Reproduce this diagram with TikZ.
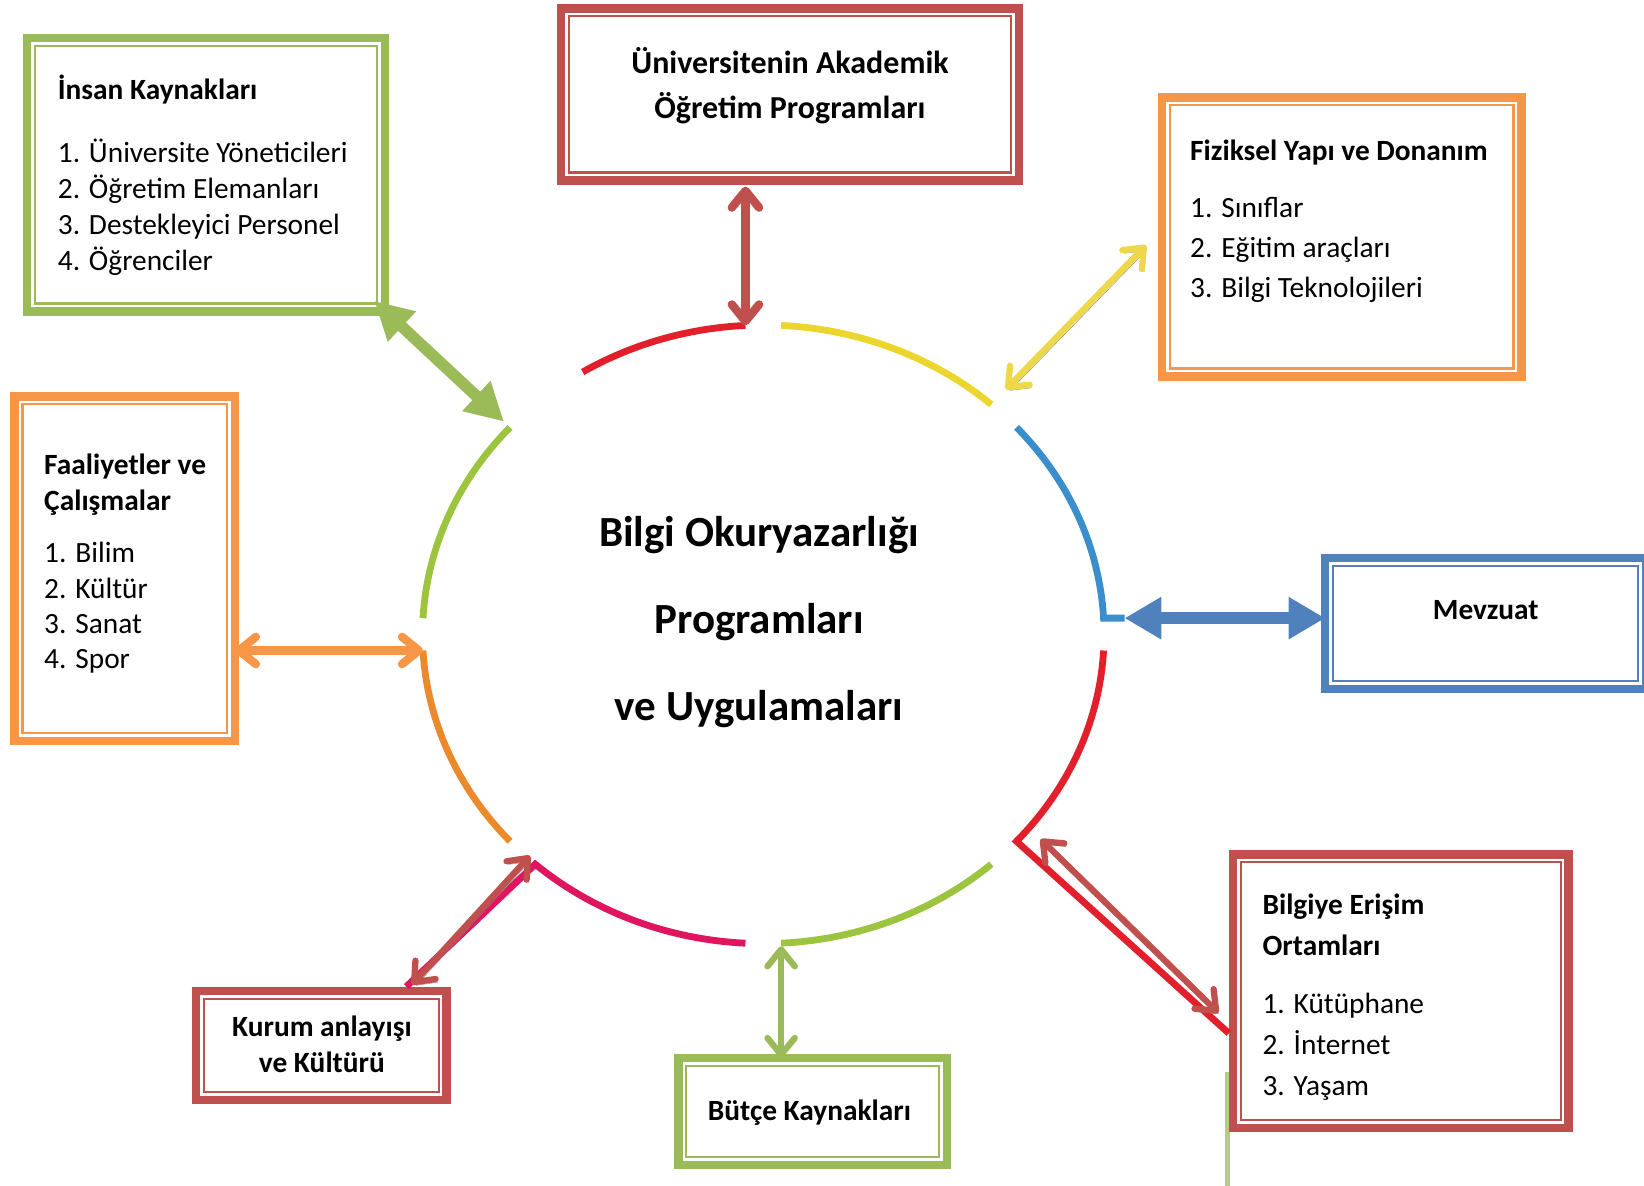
\documentclass[tikz,border=0pt]{standalone}
\usepackage{fontspec}
\setmainfont{Carlito}
\usetikzlibrary{arrows.meta}
\definecolor{boxgreen}{HTML}{9BBB59}
\definecolor{boxred}{HTML}{C0504D}
\definecolor{boxorange}{HTML}{F79646}
\definecolor{boxblue}{HTML}{4F81BD}
\definecolor{ringred}{HTML}{E2202B}
\definecolor{ringyellow}{HTML}{ECD62E}
\definecolor{ringblue}{HTML}{3B8ECC}
\definecolor{ringgreen}{HTML}{9CC43E}
\definecolor{ringmagenta}{HTML}{E0155F}
\definecolor{ringorange}{HTML}{EB8A2C}
\definecolor{arrowyellow}{HTML}{EED748}
\begin{document}
\begin{tikzpicture}[x=1pt,y=-1pt]

    \tikzset{
      frame/.style={
        draw=#1,
        line width=8pt,
        inner sep=0pt,
        outer sep=0pt,
        anchor=north west,
      },
      innerline/.style={line width=2pt},
      txt/.style={inner sep=0pt, align=left, anchor=base west},
      ctxt/.style={inner sep=0pt, align=center, anchor=base},
      ring/.style={line width=6.5pt},
      barb/.style={<->, line width=7pt, >={Straight Barb[length=16pt,width=26pt,round]}},
      block/.style={<->, >={Triangle[length=36pt,width=37pt]}},
      shadowed/.style={preaction={draw=black!50, transform canvas={xshift=2pt,yshift=-3pt}}},
    }
    \useasboundingbox (0,0) rectangle (1568,1131);

    % boxes
    \node[frame=boxgreen, minimum width=341pt, minimum height=261pt] (insan) at (26,36) {};
    \node[frame=boxred, minimum width=437pt, minimum height=164pt] (akad) at (535,8) {};
    \node[frame=boxorange, minimum width=343pt, minimum height=266pt] (fiz) at (1108,93) {};
    \node[frame=boxorange, minimum width=210pt, minimum height=329pt] (faal) at (14,378) {};
    \node[frame=boxblue, minimum width=306pt, minimum height=125pt] (mevz) at (1264,532) {};
    \node[frame=boxred, minimum width=239pt, minimum height=104pt] (kurum) at (187,945) {};
    \node[frame=boxgreen, minimum width=256pt, minimum height=102pt] (butce) at (647,1009) {};
    \draw[boxgreen!75, line width=5pt] (1171,1022) -- (1171,1131);
    \node[frame=boxred, minimum width=320pt, minimum height=261pt] (erisim) at (1176,815) {};
    % inner lines of the frames
    \draw[innerline, boxgreen] ([shift={(7.5,7.5)}]insan.north west) rectangle ([shift={(-7.5,-7.5)}]insan.south east);
    \draw[innerline, boxred] ([shift={(7.5,7.5)}]akad.north west) rectangle ([shift={(-7.5,-7.5)}]akad.south east);
    \draw[innerline, boxorange] ([shift={(7.5,7.5)}]fiz.north west) rectangle ([shift={(-7.5,-7.5)}]fiz.south east);
    \draw[innerline, boxorange] ([shift={(7.5,7.5)}]faal.north west) rectangle ([shift={(-7.5,-7.5)}]faal.south east);
    \draw[innerline, boxblue] ([shift={(7.5,7.5)}]mevz.north west) rectangle ([shift={(-7.5,-7.5)}]mevz.south east);
    \draw[innerline, boxred] ([shift={(7.5,7.5)}]kurum.north west) rectangle ([shift={(-7.5,-7.5)}]kurum.south east);
    \draw[innerline, boxgreen] ([shift={(7.5,7.5)}]butce.north west) rectangle ([shift={(-7.5,-7.5)}]butce.south east);
    \draw[innerline, boxred] ([shift={(7.5,7.5)}]erisim.north west) rectangle ([shift={(-7.5,-7.5)}]erisim.south east);

    % texts
    \node[txt, font=\fontsize{28}{34.3}\selectfont] (insantxt) at (55,258)
      {\textbf{İnsan Kaynakları}\\[26pt]1. Üniversite Yöneticileri\\2. Öğretim Elemanları\\3. Destekleyici Personel\\4. Öğrenciler};
    \node[ctxt, font=\bfseries\fontsize{30.5}{43}\selectfont] (akadtxt) at (753.5,113)
      {Üniversitenin Akademik\\Öğretim Programları};
    \node[txt, font=\fontsize{28}{38.5}\selectfont] (fiztxt) at (1135,284)
      {\textbf{Fiziksel Yapı ve Donanım}\\[15.5pt]1. Sınıflar\\2. Eğitim araçları\\3. Bilgi Teknolojileri};
    \node[txt, font=\fontsize{28}{33.7}\selectfont] (faaltxt) at (42,638)
      {\textbf{Faaliyetler ve}\\\textbf{Çalışmalar}\\[16.5pt]1. Bilim\\2. Kültür\\3. Sanat\\4. Spor};
    \node[ctxt, font=\bfseries\fontsize{28}{34}\selectfont] (mevztxt) at (1417,591) {Mevzuat};
    \node[ctxt, font=\bfseries\fontsize{28}{34}\selectfont] (kurumtxt) at (307,1023)
      {Kurum anlayışı\\ve Kültürü};
    \node[ctxt, font=\bfseries\fontsize{28}{34}\selectfont] (butcetxt) at (772,1069) {Bütçe Kaynakları};
    \node[txt, font=\fontsize{28}{39}\selectfont] (erisimtxt) at (1204,1044.5)
      {\textbf{Bilgiye Erişim}\\\textbf{Ortamları}\\[16pt]1. Kütüphane\\2. İnternet\\3. Yaşam};
    \node[ctxt, font=\bfseries\fontsize{41}{83}\selectfont] (bilgi) at (724,687)
      {Bilgi Okuryazarlığı\\Programları\\ve Uygulamaları};

    % ring
    \coordinate (c) at (728,605);
    \draw[ring, ringred] ([shift={(-122:325 and 295)}]c) arc[start angle=-122, end angle=-93, x radius=325, y radius=295] coordinate (pRT);
    \draw[ring, ringyellow] ([shift={(-87:325 and 295)}]c) arc[start angle=-87, end angle=-48, x radius=325, y radius=295] coordinate (pY);
    \draw[ring, ringblue] ([shift={(-42:325 and 295)}]c) arc[start angle=-42, end angle=-3, x radius=325, y radius=295] -- ++(20,0) coordinate (pB);
    \draw[ring, ringred] ([shift={(3:325 and 295)}]c) arc[start angle=3, end angle=42, x radius=325, y radius=295] coordinate (pRR) -- ([shift={(-4,40)}]erisim.west);
    \draw[ring, ringgreen] ([shift={(48:325 and 295)}]c) arc[start angle=48, end angle=87, x radius=325, y radius=295] coordinate (pGB);
    \draw[ring, ringmagenta] ([shift={(93:325 and 295)}]c) arc[start angle=93, end angle=132, x radius=325, y radius=295] coordinate (pM) -- ([shift={(81,-4)}]kurum.north);
    \draw[ring, ringorange] ([shift={(138:325 and 295)}]c) arc[start angle=138, end angle=177, x radius=325, y radius=295] coordinate (pO);
    \draw[ring, ringgreen] ([shift={(-177:325 and 295)}]c) arc[start angle=-177, end angle=-138, x radius=325, y radius=295] coordinate (pGL);

    % connectors
    \draw[barb, boxred, line width=8pt, shorten >=6pt] (pRT) -- (pRT |- akad.south);
    \draw[block, boxgreen, line width=11pt, shorten <=8pt] (pGL) -- ([shift={(-10,-10)}]insan.south east);
    \draw[barb, arrowyellow, line width=6pt, shadowed, shorten <=20pt] (pY) -- ([shift={(-15,8)}]fiz.west);
    \draw[block, boxblue, line width=12pt, >={Triangle[length=35pt,width=38pt]}] (pB) -- (pB -| mevz.west);
    \draw[barb, boxred, line width=6pt, shadowed] ([shift={(23,-2)}]pRR) -- ([shift={(-14,20.5)}]erisim.west);
    \draw[barb, boxgreen, line width=6pt, shorten <=3pt] (pGB) -- (pGB |- butce.north);
    \draw[barb, boxred, line width=6pt, shadowed] ([shift={(-5,-8)}]pM) -- ([shift={(86.5,-6)}]kurum.north);
    \draw[barb, boxorange, line width=8pt] (pO) -- (pO -| faal.east);

\end{tikzpicture}
\end{document}
